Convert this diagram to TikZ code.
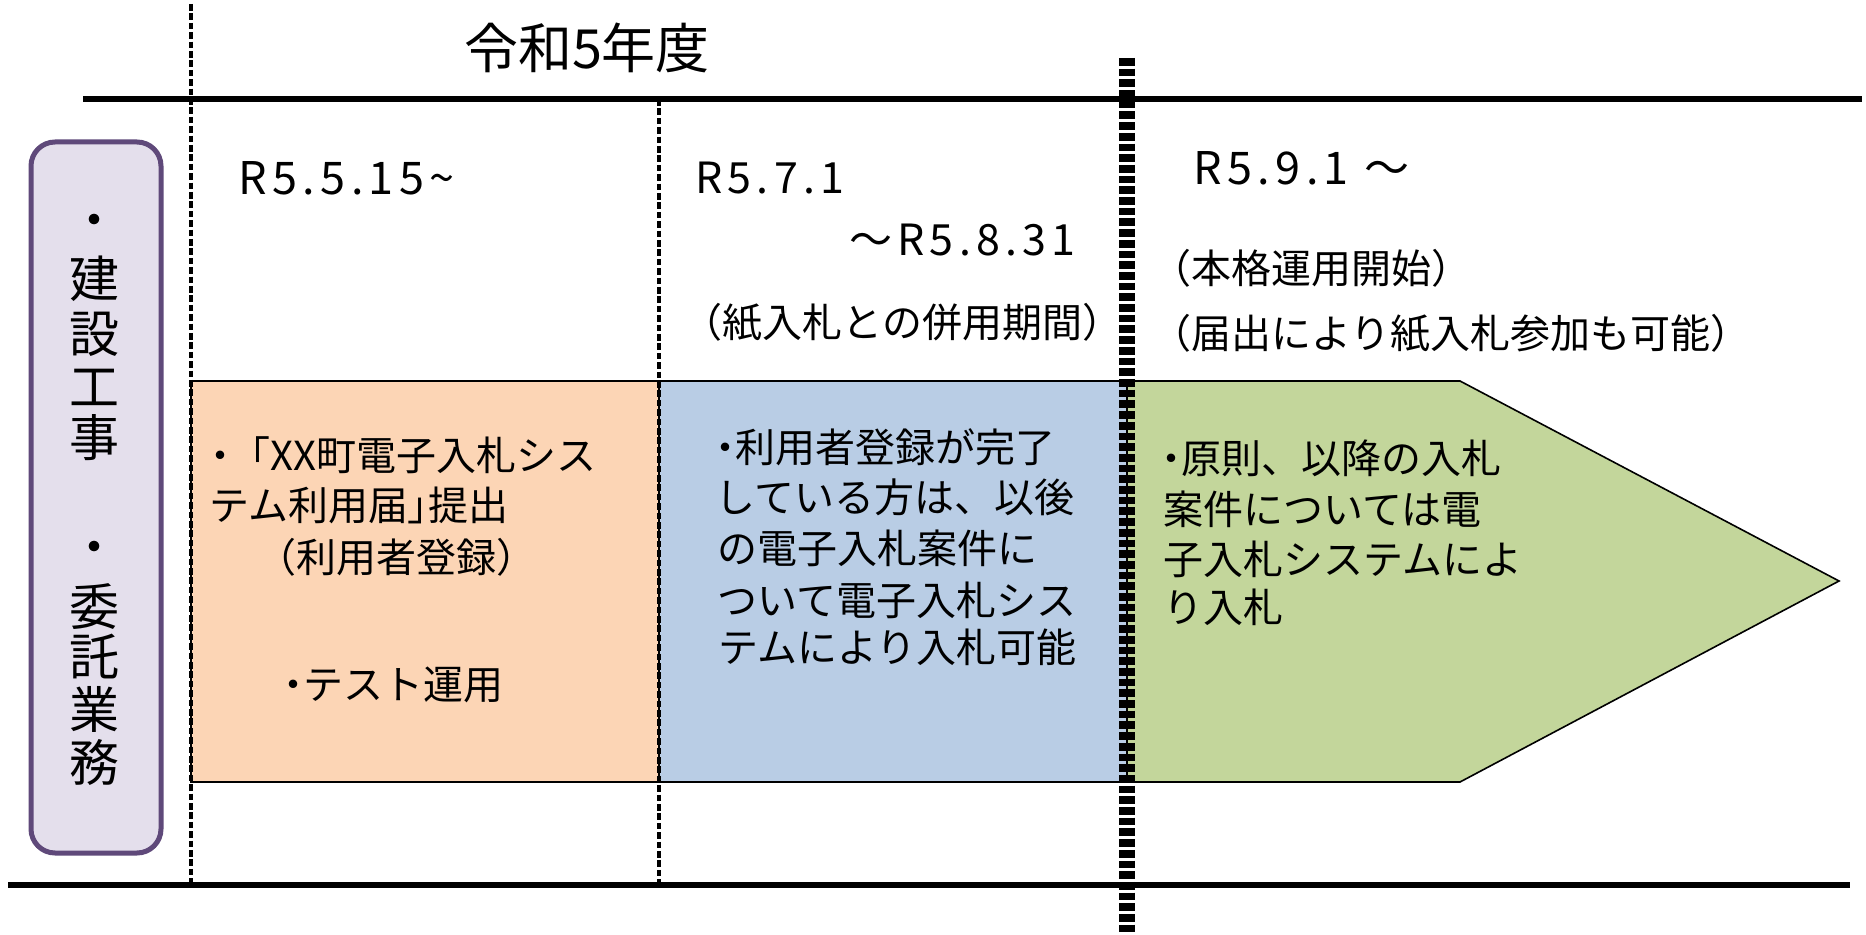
\documentclass[tikz,border=0pt]{standalone}
\usepackage{fontspec}
\setmainfont{Noto Sans CJK JP}
\newfontfamily\jpp[RawFeature=+palt]{Noto Sans CJK JP}
\newfontfamily\dtf[LetterSpace=12]{Noto Sans CJK JP}
\definecolor{lav}{HTML}{E4DFEC}
\definecolor{lavborder}{HTML}{5F497A}
\definecolor{peach}{HTML}{FCD5B5}
\definecolor{paleblue}{HTML}{B9CDE5}
\definecolor{palegreen}{HTML}{C3D69B}
\newcommand{\hdot}{{\jpp ・}}
\begin{document}
\begin{tikzpicture}[x=0.5pt,y=-0.5pt,
  body/.style={anchor=west,inner sep=0pt,font=\fontsize{20pt}{25pt}\selectfont},
  datebig/.style={anchor=west,inner sep=0pt,font=\dtf\fontsize{22.5pt}{26pt}\selectfont},
  datesmall/.style={anchor=west,inner sep=0pt,font=\dtf\fontsize{21.5pt}{24pt}\selectfont},
  vchar/.style={anchor=center,inner sep=0pt,font=\fontsize{25pt}{28pt}\selectfont},
  period/.style={draw=black,line width=0.8pt},
  thinsep/.style={line width=1.65pt,dash pattern=on 3.3pt off 1.4pt},
  thicksep/.style={line width=8pt,dash pattern=on 3.85pt off 1.5pt},
  rule/.style={line width=3pt}]
\useasboundingbox (0,0) rectangle (1866,935);
\fill[white] (0,0) rectangle (1866,935);

% category box
\draw[fill=lav,draw=lavborder,line width=2.5pt,rounded corners=12pt] (31,142) rectangle (161,853);
\node[vchar] (v1) at (94,226) {・};
\node[vchar] (v2) at (94,279) {建};
\node[vchar] (v3) at (94,334) {設};
\node[vchar] (v4) at (94,387) {工};
\node[vchar] (v5) at (94,438) {事};
\node[vchar] (v6) at (94,553) {・};
\node[vchar] (v7) at (94,607) {委};
\node[vchar] (v8) at (94,656) {託};
\node[vchar] (v9) at (94,709) {業};
\node[vchar] (v10) at (94,762) {務};

% period boxes
\draw[period,fill=peach] (191,381) rectangle (659,782);
\draw[period,fill=paleblue] (659,381) rectangle (1127,782);
\draw[period,fill=palegreen] (1127,381) -- (1460,381) -- (1839,581) -- (1460,782) -- (1127,782) -- cycle;

% rules
\draw[rule] (83,99) -- (1862,99);
\draw[rule] (8,885) -- (1850,885);
\draw[thinsep] (191,4) -- (191,885);
\draw[thinsep] (659,99) -- (659,885);
\draw[thicksep] (1127,58) -- (1127,935);

% heading
\node[anchor=center,inner sep=0pt,font=\fontsize{27pt}{30pt}\selectfont] (head) at (587,48) {令和5年度};

% dates
\node[datebig] (d1) at (238,178) {R5.5.15{\char`\~}};
\node[datesmall] (d2) at (695,178) {R5.7.1};
\node[datesmall] (d3) at (849,240) {～R5.8.31};
\node[body] (p1) at (682,322) {（紙入札との併用期間）};
\node[datebig] (d4) at (1193,168) {R5.9.1 ～};
\node[body] (p2) at (1151,268) {（本格運用開始）};
\node[body] (p3) at (1151,333) {（届出により紙入札参加も可能）};

% orange text
\node[body] (o1) at (210,455) {\hdot 「XX町電子入札シス};
\node[body] (o2) at (209,505) {テム利用届{\jpp 」}提出};
\node[body] (o3) at (256,557) {（利用者登録）};
\node[body] (o4) at (283,685) {\hdot テスト運用};

% blue text
\node[body] (b1) at (715,447) {\hdot 利用者登録が完了};
\node[body] (b2) at (715,497) {している方は、以後};
\node[body] (b3) at (717,548) {の電子入札案件に};
\node[body] (b4) at (717,600) {ついて電子入札シス};
\node[body] (b5) at (718,647) {テムにより入札可能};

% green text
\node[body] (g1) at (1161,458) {\hdot 原則、以降の入札};
\node[body] (g2) at (1163,509) {案件については電};
\node[body] (g3) at (1163,559) {子入札システムによ};
\node[body] (g4) at (1163,607) {り入札};
\end{tikzpicture}
\end{document}
